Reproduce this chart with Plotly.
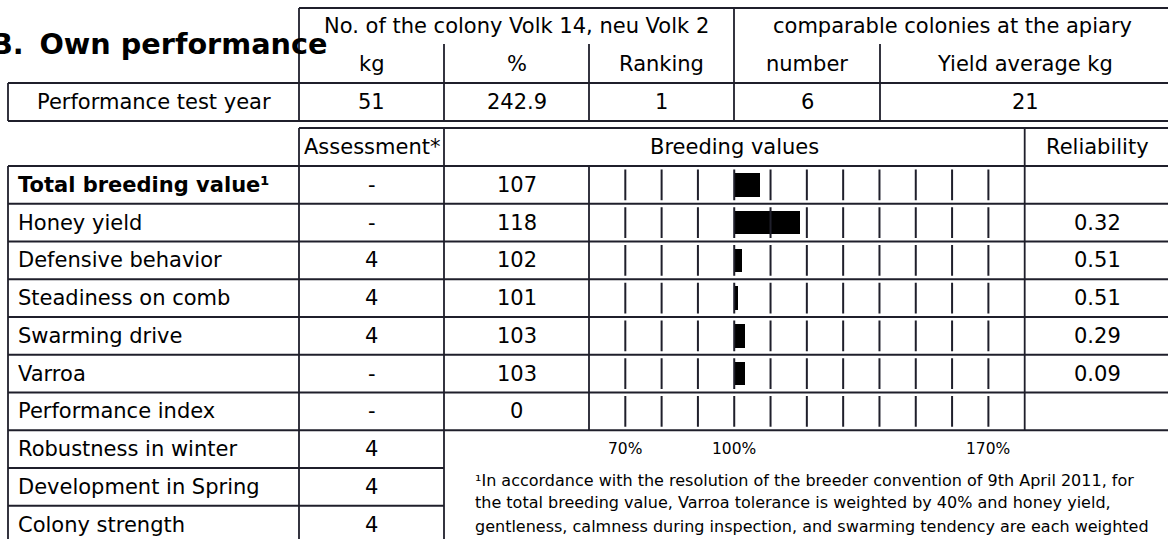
import plotly.graph_objects as go

# ---------------- data ----------------
title_text = "B.\u2009 Own performance"
perf_group_headers = ["No. of the colony Volk 14, neu Volk 2", "comparable colonies at the apiary"]
perf_sub_headers = ["kg", "%", "Ranking", "number", "Yield average kg"]
perf_row_label = "Performance test year"
perf_values = ["51", "242.9", "1", "6", "21"]

bv_headers = ["Assessment*", "Breeding values", "Reliability"]
traits = ["<b>Total breeding value¹</b>", "Honey yield", "Defensive behavior",
          "Steadiness on comb", "Swarming drive", "Varroa", "Performance index",
          "Robustness in winter", "Development in Spring", "Colony strength"]
assessment = ["-", "-", "4", "4", "4", "-", "-", "4", "4", "4"]
breeding_values = [107, 118, 102, 101, 103, 103, 0]
reliability = ["", "0.32", "0.51", "0.51", "0.29", "0.09", ""]
scale_ticks = [70, 80, 90, 100, 110, 120, 130, 140, 150, 160, 170]
scale_label_vals = [70, 100, 170]
scale_labels = ["70%", "100%", "170%"]
footnote_lines = [
    "¹In accordance with the resolution of the breeder convention of 9th April 2011, for",
    "the total breeding value, Varroa tolerance is weighted by 40% and honey yield,",
    "gentleness, calmness during inspection, and swarming tendency are each weighted",
]

# ---------------- layout geometry (page pixels) ----------------
W, H = 1168, 539
OFF = 0
FONT = "DejaVu Sans"
LC = "#1f1f2b"
LW = 1.8

def X(px):
    return (px - OFF) / W

def Y(py):
    return 1 - (py - OFF) / H

# top table
t_cols = [299, 444, 589, 734, 880, 1172]
t_left = 8
t_top, t_sub, t_mid, t_bot = 8, 44, 83, 121
# second table
b_top = 128
r0 = 166
rh = 37.75
n_rows = len(traits)
n_bv = len(breeding_values)
c_lab, c_ass, c_val, c_bar, c_rel, c_end = 8, 299, 444, 589, 1024.7, 1172
scale_min, scale_max = 60, 180

shapes = []

def hline(y, x0, x1):
    shapes.append(dict(type="line", xref="paper", yref="paper", x0=X(x0), x1=X(x1),
                       y0=Y(y), y1=Y(y), line=dict(color=LC, width=LW)))

def vline(x, y0, y1):
    shapes.append(dict(type="line", xref="paper", yref="paper", x0=X(x), x1=X(x),
                       y0=Y(y0), y1=Y(y1), line=dict(color=LC, width=LW)))

# top table lines
hline(t_top, t_cols[0], t_cols[-1])
hline(t_mid, t_left, t_cols[-1])
hline(t_bot, t_left, t_cols[-1])
vline(t_left, t_mid, t_bot)
vline(t_cols[0], t_top, t_bot)
vline(t_cols[3], t_top, t_bot)
for cx in (t_cols[1], t_cols[2], t_cols[4]):
    vline(cx, t_sub, t_bot)

# second table lines
hline(b_top, c_ass, c_end)
for k in range(n_rows + 1):
    y = r0 + k * rh
    hline(y, c_lab, c_end if k <= n_bv else c_val)
vline(c_lab, r0, r0 + n_rows * rh)
vline(c_ass, b_top, r0 + n_rows * rh)
vline(c_val, b_top, r0 + n_rows * rh)
vline(c_bar, r0, r0 + n_bv * rh)
vline(c_rel, b_top, r0 + n_bv * rh)

annotations = []

def txt(s, x, y, size=21, anchor="center"):
    annotations.append(dict(text=s, x=X(x), y=Y(y), xref="paper", yref="paper",
                            xanchor=anchor, yanchor="middle", showarrow=False,
                            font=dict(family=FONT, size=size, color="#000")))

# title
txt("<b>" + title_text + "</b>", 329, 44, size=28.7, anchor="right")

# top table text
txt(perf_group_headers[0], (t_cols[0] + t_cols[3]) / 2, (t_top + t_sub) / 2)
txt(perf_group_headers[1], (t_cols[3] + 1170) / 2, (t_top + t_sub) / 2)
for i, s in enumerate(perf_sub_headers):
    right = t_cols[i + 1] if i < 4 else 1170
    txt(s, (t_cols[i] + right) / 2, (t_sub + t_mid) / 2)
txt(perf_row_label, (t_left + t_cols[0]) / 2, (t_mid + t_bot) / 2)
for i, s in enumerate(perf_values):
    right = t_cols[i + 1] if i < 4 else 1170
    txt(s, (t_cols[i] + right) / 2, (t_mid + t_bot) / 2)

# second table header
hy = (b_top + r0) / 2
txt(bv_headers[0], (c_ass + c_val) / 2, hy)
txt(bv_headers[1], (c_val + c_rel) / 2, hy)
txt(bv_headers[2], (c_rel + 1170) / 2, hy)

# rows
for i, name in enumerate(traits):
    cy = r0 + (i + 0.5) * rh
    txt(name, 16, cy, anchor="left")
    txt(assessment[i], (c_ass + c_val) / 2, cy)
for i, v in enumerate(breeding_values):
    cy = r0 + (i + 0.5) * rh
    txt(str(v), (c_val + c_bar) / 2, cy)
    txt(reliability[i], (c_rel + 1170) / 2, cy)

# scale labels through x2 axis
label_y = r0 + (n_bv + 0.5) * rh
for v, s in zip(scale_label_vals, scale_labels):
    annotations.append(dict(text=s, x=v, xref="x2", y=Y(label_y), yref="paper",
                            xanchor="center", yanchor="middle", showarrow=False,
                            font=dict(family=FONT, size=15.5, color="#000")))

# footnote
for j, line in enumerate(footnote_lines):
    txt(line, 473, 480 + j * 23, size=16, anchor="left")

# ---------------- traces ----------------
rows_idx = list(range(n_bv))
tick_gap = 0.5 - 3.5 / rh
tx, ty = [], []
for i in rows_idx:
    for t in scale_ticks:
        tx += [t, t, None]
        ty += [i - tick_gap, i + tick_gap, None]

fig = go.Figure()
fig.add_trace(go.Scatter(x=tx, y=ty, mode="lines", xaxis="x2", yaxis="y2",
                         line=dict(color=LC, width=2), hoverinfo="skip", showlegend=False))
fig.add_trace(go.Bar(x=[(v - 100) if v > 0 else None for v in breeding_values],
                     base=100, y=rows_idx, orientation="h", xaxis="x2", yaxis="y2",
                     width=0.62, marker=dict(color="#000", line=dict(width=0)),
                     hovertext=[t for t in traits[:n_bv]], showlegend=False))

fig.update_layout(
    width=W, height=H,
    margin=dict(l=0, r=0, t=0, b=0, pad=0),
    paper_bgcolor="white", plot_bgcolor="rgba(0,0,0,0)",
    showlegend=False,
    xaxis=dict(visible=False),
    yaxis=dict(visible=False),
    xaxis2=dict(domain=[X(c_bar), X(c_rel)], range=[scale_min, scale_max], anchor="y2",
                visible=False, fixedrange=True),
    yaxis2=dict(domain=[Y(r0 + n_bv * rh), Y(r0)], range=[n_bv - 0.5, -0.5], anchor="x2",
                visible=False, fixedrange=True),
    shapes=shapes,
    annotations=annotations,
    bargap=0,
)

fig.write_html("out.html",
               config={"displayModeBar": False},
               post_script="document.body.style.margin='0px';document.body.style.overflow='hidden';")
